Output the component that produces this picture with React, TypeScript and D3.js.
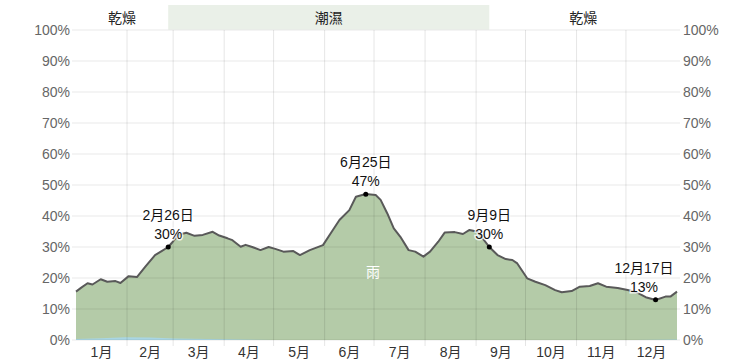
import React, { useEffect } from "react";
import * as d3 from "d3";

const months = ["1月", "2月", "3月", "4月", "5月", "6月", "7月", "8月", "9月", "10月", "11月", "12月"];
const monthStarts = [0, 31, 59, 90, 120, 151, 181, 212, 243, 273, 304, 334, 365];
const yTicks = [0, 10, 20, 30, 40, 50, 60, 70, 80, 90, 100];

const days = [0, 3, 7, 10, 15, 19, 24, 27, 32, 37, 42, 48, 52, 56, 58, 62, 67, 72, 77, 83, 87, 92, 95, 100, 103, 107, 112, 117, 121, 126, 132, 136, 142, 150, 156, 160, 166, 170, 176, 182, 185, 189, 193, 197, 202, 206, 211, 215, 220, 224, 230, 235, 239, 244, 247, 251, 256, 261, 265, 268, 274, 279, 285, 291, 295, 301, 306, 312, 317, 322, 329, 335, 340, 346, 352, 358, 361, 365];
const humidity = [15.6, 16.8, 18.3, 17.9, 19.6, 18.8, 19.0, 18.4, 20.6, 20.3, 23.6, 27.4, 28.7, 30.0, 31.2, 33.9, 34.6, 33.6, 33.9, 34.9, 33.7, 32.8, 32.2, 30.1, 30.7, 30.0, 29.0, 30.0, 29.4, 28.5, 28.7, 27.4, 29.0, 30.6, 35.5, 38.7, 41.9, 46.2, 47.1, 46.8, 45.2, 40.9, 36.0, 33.3, 29.0, 28.5, 26.9, 28.5, 31.7, 34.7, 34.8, 34.2, 35.5, 34.9, 32.8, 30.0, 27.4, 26.1, 25.8, 24.7, 19.9, 18.8, 17.7, 16.1, 15.4, 15.8, 17.2, 17.4, 18.3, 17.2, 16.8, 16.1, 15.5, 13.8, 12.9, 14.0, 14.0, 15.6];

const snowDays = [0, 15, 30, 45, 60, 80, 100, 120, 340, 365];
const snow = [0.3, 0.6, 0.9, 0.8, 0.5, 0.3, 0.15, 0, 0, 0.2];

const seasonBands = [
  { label: "乾燥", from: 0, to: 56, wet: false },
  { label: "潮濕", from: 56, to: 251, wet: true },
  { label: "乾燥", from: 251, to: 365, wet: false },
];

const annotations = [
  { day: 56, value: 30, date: "2月26日", text: "30%" },
  { day: 176, value: 47, date: "6月25日", text: "47%" },
  { day: 251, value: 30, date: "9月9日", text: "30%" },
  { day: 352, value: 13, date: "12月17日", text: "13%" },
];

const W = 753, H = 362;
const font = "'Liberation Sans', Arial, 'Noto Sans CJK TC', sans-serif";

export default function App() {
  useEffect(() => {
    document.body.style.margin = "0";
  }, []);
  const x = d3.scaleLinear().domain([0, 365]).range([76, 677]);
  const y = d3.scaleLinear().domain([0, 100]).range([340, 30]);

  const area = d3.area<number>().x((_, i) => x(days[i])).y0(y(0)).y1((d) => y(d));
  const line = d3.line<number>().x((_, i) => x(days[i])).y((d) => y(d));
  const snowArea = d3.area<number>().x((_, i) => x(snowDays[i])).y0(y(0)).y1((d) => y(d));

  return (
    <svg width={W} height={H} style={{ position: "absolute", left: 0, top: 0, fontFamily: font }}>
      {seasonBands.map((b, i) => (
        <g key={"b" + i}>
          {b.wet && <rect x={x(b.from)} y={5} width={x(b.to) - x(b.from)} height={24.5} fill="#eaf0e8" />}
          <text x={(x(b.from) + x(b.to)) / 2} y={18} dy="0.35em" textAnchor="middle" fontSize={14} fill="#222">{b.label}</text>
        </g>
      ))}
      <path d={area(humidity) || ""} fill="#b4cba8" />
      <path d={snowArea(snow) || ""} fill="#a9d6e3" />
      {yTicks.map((t) => (
        <line key={"h" + t} x1={72} x2={680} y1={y(t)} y2={y(t)} stroke="#000" strokeOpacity={0.06} strokeWidth={1.5} />
      ))}
      {monthStarts.slice(1, 12).map((d) => (
        <line key={"v" + d} x1={x(d)} x2={x(d)} y1={30} y2={346} stroke="#000" strokeOpacity={0.1} strokeWidth={1} />
      ))}
      <path d={line(humidity) || ""} fill="none" stroke="#595959" strokeWidth={2} strokeLinejoin="round" />
      <text x={373} y={272} dy="0.35em" textAnchor="middle" fontSize={14} fill="#fff">雨</text>
      {yTicks.map((t) => (
        <g key={"yl" + t}>
          <text x={70} y={y(t)} dy="0.35em" textAnchor="end" fontSize={14} fill="#666">{t}%</text>
          <text x={683} y={y(t)} dy="0.35em" textAnchor="start" fontSize={14} fill="#666">{t}%</text>
        </g>
      ))}
      {months.map((m, i) => (
        <text key={m} x={x((monthStarts[i] + monthStarts[i + 1]) / 2)} y={352} dy="0.35em" textAnchor="middle" fontSize={14} fill="#333">{m}</text>
      ))}
      {annotations.map((a) => {
        const px = x(a.day), py = y(a.value);
        const cx = Math.min(px, 644);
        return (
          <g key={a.date}>
            <circle cx={px} cy={py} r={2.5} fill="#000" />
            <text x={cx} y={py - 27} textAnchor="middle" fontSize={14} fill="#111" stroke="#fff" strokeWidth={3} strokeOpacity={0.8} style={{ paintOrder: "stroke" }}>{a.date}</text>
            <text x={cx} y={py - 8} textAnchor="middle" fontSize={14} fill="#111" stroke="#fff" strokeWidth={3} strokeOpacity={0.8} style={{ paintOrder: "stroke" }}>{a.text}</text>
          </g>
        );
      })}
    </svg>
  );
}
